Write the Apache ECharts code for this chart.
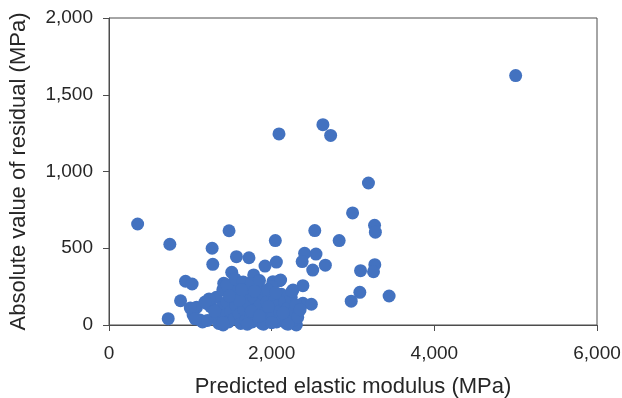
<!DOCTYPE html>
<html>
<head>
<meta charset="utf-8">
<script src="https://cdn.jsdelivr.net/npm/echarts@6/dist/echarts.min.js"></script>
<style>
  html, body { margin: 0; padding: 0; background: #fff; }
  #chart { width: 622px; height: 398px; }
</style>
</head>
<body>
<div id="chart"></div>
<script>
// predicted elastic modulus (MPa) and absolute residual (MPa)
const predicted = [
  5000, 2090, 2630, 2725, 3190, 2995, 3265, 3275, 2530, 2830,
  2045, 2405, 2545, 2375, 2058, 2505, 2660, 1918, 3093, 3268,
  3252, 3084, 2978, 3444, 352, 748, 1476, 1268, 1276, 1567,
  1721, 1509, 1779, 941, 1022, 880, 728, 1411, 1677, 2098,
  2016, 2384, 2262, 1076, 1199, 2384, 2488, 1034, 1117, 1403,
  2303, 2110,
  1150, 1210, 1250, 1300, 1320, 1350, 1380, 1400, 1420, 1450,
  1470, 1500, 1520, 1540, 1560, 1580, 1600, 1620, 1640, 1660,
  1680, 1700, 1720, 1740, 1760, 1780, 1800, 1820, 1840, 1860,
  1880, 1900, 1920, 1940, 1960, 1980, 2000, 2020, 2040, 2060,
  2080, 2100, 2120, 2140, 2160, 2180, 2200, 2220, 2240, 2260,
  2280, 2300, 2320, 2350, 2250, 1450, 1550, 1650, 1750, 1850,
  1950, 2050, 1700, 1600, 1400, 1300, 1230, 1180, 1000, 1060,
  1900, 2000, 2200, 1750, 1850, 1480, 1630, 1790, 1960, 2140
];
const residual = [
  1625, 1245, 1305, 1235, 925, 730, 650, 605, 615, 550,
  550, 467, 462, 413, 410, 358, 390, 384, 354, 393,
  347, 213, 155, 189, 658, 526, 614, 500, 395, 445,
  438, 343, 326, 285, 267, 158, 41, 272, 272, 289,
  282, 256, 228, 115, 141, 141, 135, 65, 33, 0,
  0, 293,
  20, 30, 120, 60, 180, 10, 110, 230, 60, 150,
  20, 90, 200, 40, 130, 250, 70, 10, 170, 100,
  30, 210, 140, 60, 20, 180, 100, 240, 50, 130,
  10, 200, 80, 150, 30, 110, 250, 60, 170, 20,
  130, 90, 200, 40, 150, 10, 110, 60, 180, 30,
  90, 130, 50, 100, 220, 260, 300, 280, 270, 290,
  230, 210, 5, 160, 15, 90, 170, 150, 110, 40,
  5, 15, 5, 90, 60, 190, 230, 220, 120, 80
];

const xTicks = [0, 2000, 4000, 6000];
const yTicks = [0, 500, 1000, 1500, 2000];

const textColor = '#262626';
const lineColor = '#4d4d4d';
const fmt = (v) => v.toLocaleString('en-US');

const chart = echarts.init(document.getElementById('chart'));
chart.setOption({
  animation: false,
  grid: {
    left: 109, right: 25, top: 18, bottom: 73,
    containLabel: false, outerBoundsMode: 'none',
    show: true, borderColor: lineColor, borderWidth: 1, backgroundColor: 'transparent'
  },
  xAxis: {
    type: 'value',
    min: xTicks[0], max: xTicks[xTicks.length - 1], interval: 2000,
    name: 'Predicted elastic modulus (MPa)',
    nameLocation: 'middle', nameGap: 51,
    nameTextStyle: { fontFamily: 'Liberation Sans', fontSize: 22, color: textColor },
    axisLine: { show: true, lineStyle: { color: lineColor } },
    axisTick: { show: true, length: 6, lineStyle: { color: lineColor } },
    axisLabel: { fontFamily: 'Liberation Sans', fontSize: 19, color: textColor, margin: 19, formatter: fmt },
    splitLine: { show: false }
  },
  yAxis: {
    type: 'value',
    min: yTicks[0], max: yTicks[yTicks.length - 1], interval: 500,
    name: 'Absolute value of residual (MPa)',
    nameLocation: 'middle', nameGap: 79,
    nameTextStyle: { fontFamily: 'Liberation Sans', fontSize: 22, color: textColor },
    axisLine: { show: true, lineStyle: { color: lineColor } },
    axisTick: { show: true, length: 6, lineStyle: { color: lineColor } },
    axisLabel: { fontFamily: 'Liberation Sans', fontSize: 19, color: textColor, margin: 16, formatter: fmt },
    splitLine: { show: false }
  },
  series: [
    {
      type: 'scatter',
      symbolSize: 13,
      itemStyle: { color: '#4372c0', opacity: 1 },
      data: predicted.map((x, i) => [x, residual[i]])
    }
  ]
});
</script>
</body>
</html>
